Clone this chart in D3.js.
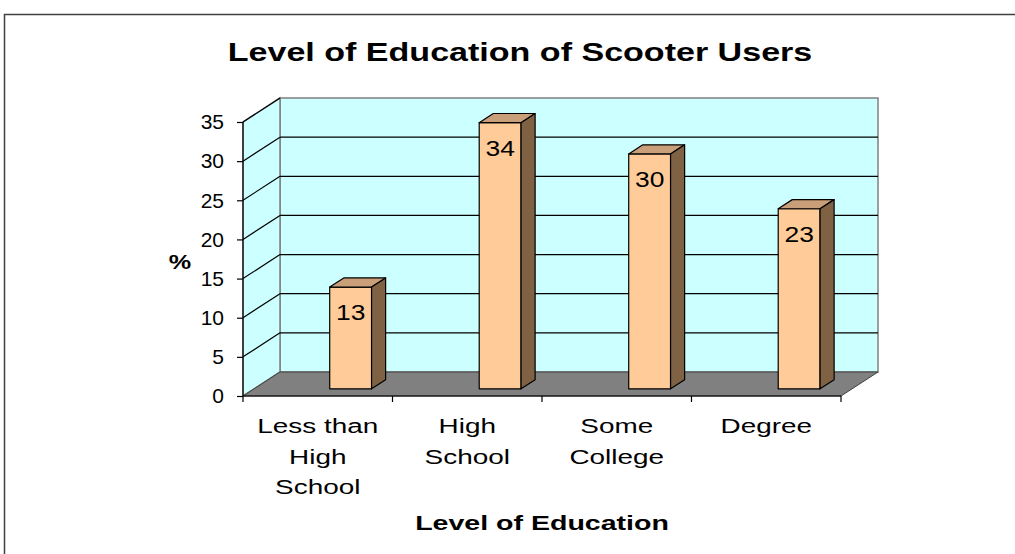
<!DOCTYPE html>
<html>
<head>
<meta charset="utf-8">
<script src="https://cdn.jsdelivr.net/npm/d3@7"></script>
<style>
  body { margin: 0; background: #fff; }
  svg { display: block; font-family: "Liberation Sans", Arial, sans-serif; }
</style>
</head>
<body>
<div id="root"></div>
<script>
// chart data
var categories = [["Less than", "High", "School"], ["High", "School"], ["Some", "College"], ["Degree"]];
var values = [13, 34, 30, 23];
var yTicks = [0, 5, 10, 15, 20, 25, 30, 35];

var width = 1015, height = 554;

// 3d depth of the plot (back wall offset)
var depthX = 37, depthY = -24;
// bar sits between these fractions of the depth
var barD0 = 0.3, barD1 = 0.68;

var svg = d3.select("#root").append("svg")
  .attr("width", width).attr("height", height);

// the original text is rendered wide, so stretch it horizontally
function wideText(g, cx, cy, sx) {
  return g.append("text")
    .attr("transform", `translate(${cx},${cy}) scale(${sx},1)`)
    .attr("text-anchor", "middle");
}

// outer frame
svg.append("rect")
  .attr("x", 4.5).attr("y", 14.5)
  .attr("width", 1020).attr("height", 560)
  .attr("fill", "none").attr("stroke", "#404040").attr("stroke-width", 1.5);

var keys = categories.map((d, i) => i);
var x = d3.scaleBand().domain(keys).range([243, 841]).padding(0);
var y = d3.scaleLinear().domain([0, 35]).range([396, 122]);
var bw = x.bandwidth();

var x0 = 243, x1 = 841;

// back wall
svg.append("rect")
  .attr("x", x0 + depthX).attr("y", y(35) + depthY)
  .attr("width", x1 - x0).attr("height", y(0) - y(35))
  .attr("fill", "#ccffff").attr("stroke", "#808080").attr("stroke-width", 1.5);

// left wall
svg.append("polygon")
  .attr("points", [[x0, y(0)], [x0, y(35)], [x0 + depthX, y(35) + depthY], [x0 + depthX, y(0) + depthY]].join(" "))
  .attr("fill", "#ccffff").attr("stroke", "#808080").attr("stroke-width", 1.5);

// floor
svg.append("polygon")
  .attr("points", [[x0, y(0)], [x1, y(0)], [x1 + depthX, y(0) + depthY], [x0 + depthX, y(0) + depthY]].join(" "))
  .attr("fill", "#808080").attr("stroke", "#404040").attr("stroke-width", 1);

// gridlines on the walls
var grid = svg.append("g").attr("stroke", "#000").attr("stroke-width", 1.2);
yTicks.filter(t => t > 0).forEach(function(t) {
  grid.append("line")
    .attr("x1", x0).attr("y1", y(t))
    .attr("x2", x0 + depthX).attr("y2", y(t) + depthY);
  if (t < 35) {
    grid.append("line")
      .attr("x1", x0 + depthX).attr("y1", y(t) + depthY)
      .attr("x2", x1 + depthX).attr("y2", y(t) + depthY);
  }
});

// bars
var bx = i => x(i) + 0.58 * bw;
var bWidth = 0.28 * bw;
var fdy = barD0 * depthY;
var ddx = (barD1 - barD0) * depthX, ddy = (barD1 - barD0) * depthY;

var bars = svg.append("g").selectAll("g")
  .data(values)
  .enter().append("g")
  .attr("stroke", "#000").attr("stroke-width", 1.2).attr("stroke-linejoin", "round");

bars.append("rect")
  .attr("x", (d, i) => bx(i))
  .attr("y", d => y(d) + fdy)
  .attr("width", bWidth)
  .attr("height", d => y(0) - y(d))
  .attr("fill", "#ffcc99");

bars.append("polygon")
  .attr("points", function(d, i) {
    var l = bx(i), r = l + bWidth, t = y(d) + fdy;
    return [[l, t], [r, t], [r + ddx, t + ddy], [l + ddx, t + ddy]].join(" ");
  })
  .attr("fill", "#c89f78");

bars.append("polygon")
  .attr("points", function(d, i) {
    var r = bx(i) + bWidth, t = y(d) + fdy, b = y(0) + fdy;
    return [[r, t], [r + ddx, t + ddy], [r + ddx, b + ddy], [r, b]].join(" ");
  })
  .attr("fill", "#7f6244");

// value labels
var valG = svg.append("g");
values.forEach(function(v, i) {
  wideText(valG, bx(i) + bWidth / 2, y(v) + fdy + 33, 1.2)
    .attr("font-size", "22px")
    .attr("fill", "#000")
    .text(v);
});

// y axis
var yAxis = svg.append("g")
  .attr("transform", `translate(${x0},0)`)
  .call(d3.axisLeft(y).tickValues(yTicks).tickSize(6).tickPadding(13));
yAxis.select(".domain").attr("stroke", "#000").attr("stroke-width", 1.2).attr("d", `M0,${y(35)}V${y(0)}`);
yAxis.selectAll(".tick line").attr("stroke", "#000").attr("stroke-width", 1.2);
yAxis.selectAll(".tick text")
  .attr("font-size", "21px").attr("fill", "#000")
  .attr("font-family", "Liberation Sans, Arial, sans-serif");

// x axis
var xAxisG = svg.append("g").attr("stroke", "#000").attr("stroke-width", 1.2);
xAxisG.append("line").attr("x1", x0).attr("x2", x1).attr("y1", y(0)).attr("y2", y(0));
keys.concat([keys.length]).forEach(function(i) {
  var px = i < keys.length ? x(i) : x(keys.length - 1) + bw;
  xAxisG.append("line").attr("x1", px).attr("x2", px).attr("y1", y(0)).attr("y2", y(0) + 6);
});

// category labels
var catG = svg.append("g");
categories.forEach(function(lines, i) {
  lines.forEach(function(line, j) {
    wideText(catG, x(i) + bw / 2, 433 + j * 30.5, 1.33)
      .attr("font-size", "21px")
      .attr("fill", "#000")
      .text(line);
  });
});

// titles
wideText(svg, 520, 61, 1.31)
  .attr("font-size", "26px").attr("font-weight", "bold")
  .text("Level of Education of Scooter Users");

wideText(svg, 542, 530, 1.36)
  .attr("font-size", "21px").attr("font-weight", "bold")
  .text("Level of Education");

wideText(svg, 180, 269, 1.2)
  .attr("font-size", "21px").attr("font-weight", "bold")
  .text("%");
</script>
</body>
</html>
